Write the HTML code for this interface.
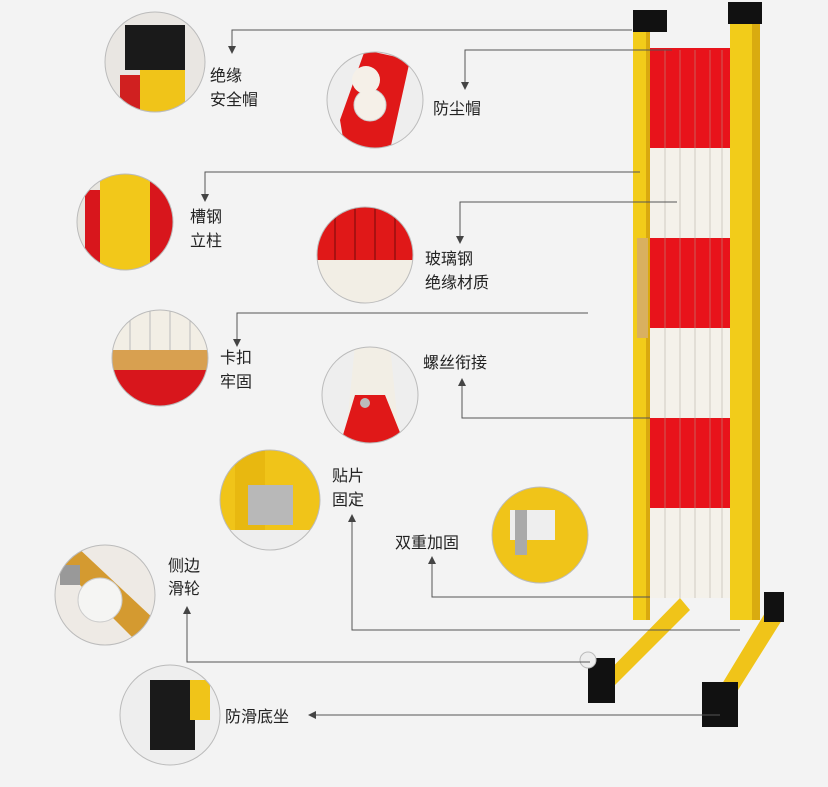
<!DOCTYPE html>
<html><head><meta charset="utf-8"><style>
html,body{margin:0;padding:0;background:#f3f3f3}
svg{display:block}
text{font-family:"Liberation Sans","Noto Sans CJK SC",sans-serif;font-size:16px;fill:#222}
</style></head><body>
<svg width="828" height="787" viewBox="0 0 828 787" xmlns="http://www.w3.org/2000/svg">
<defs>
<marker id="a" markerWidth="8" markerHeight="8" refX="4" refY="4" orient="auto"><path d="M0,0 L8,4 L0,8 Z" fill="#444"/></marker>
<clipPath id="c1"><circle cx="155" cy="62" r="50"/></clipPath>
<clipPath id="c2"><circle cx="375" cy="100" r="48"/></clipPath>
<clipPath id="c3"><circle cx="125" cy="222" r="48"/></clipPath>
<clipPath id="c4"><circle cx="365" cy="255" r="48"/></clipPath>
<clipPath id="c5"><circle cx="160" cy="358" r="48"/></clipPath>
<clipPath id="c6"><circle cx="370" cy="395" r="48"/></clipPath>
<clipPath id="c7"><circle cx="270" cy="500" r="50"/></clipPath>
<clipPath id="c8"><circle cx="540" cy="535" r="48"/></clipPath>
<clipPath id="c9"><circle cx="105" cy="595" r="50"/></clipPath>
<clipPath id="c10"><circle cx="170" cy="715" r="50"/></clipPath>
</defs>
<rect width="828" height="787" fill="#f3f3f3"/>

<g>
<rect x="650" y="48" width="82" height="100" fill="#e8131b"/>
<rect x="650" y="148" width="82" height="90" fill="#f4f1ea"/>
<rect x="650" y="238" width="82" height="90" fill="#e8131b"/>
<rect x="650" y="328" width="82" height="90" fill="#f4f1ea"/>
<rect x="650" y="418" width="82" height="90" fill="#e8131b"/>
<rect x="650" y="508" width="82" height="90" fill="#f4f1ea"/>
<g stroke="#b0a89a" stroke-width="1" opacity="0.5">
<line x1="665" y1="50" x2="665" y2="598"/><line x1="680" y1="50" x2="680" y2="598"/><line x1="695" y1="50" x2="695" y2="598"/><line x1="710" y1="50" x2="710" y2="598"/><line x1="722" y1="50" x2="722" y2="598"/>
</g>
<polygon points="590,690 600,700 690,610 680,598" fill="#f0c419"/>
<polygon points="705,712 718,722 782,620 768,608" fill="#f0c419"/>
<rect x="633" y="20" width="17" height="600" fill="#f2cc1a"/>
<rect x="646" y="20" width="4" height="600" fill="#d9a90f"/>
<rect x="730" y="15" width="30" height="605" fill="#f2cc1a"/>
<rect x="752" y="15" width="8" height="605" fill="#d9ab10"/>
<rect x="633" y="10" width="34" height="22" fill="#111"/>
<rect x="728" y="2" width="34" height="22" fill="#111"/>
<rect x="637" y="238" width="11" height="100" fill="#d9b060"/>
<rect x="588" y="658" width="27" height="45" fill="#111"/>
<rect x="702" y="682" width="36" height="45" fill="#111"/>
<rect x="764" y="592" width="20" height="30" fill="#111"/>
<circle cx="588" cy="660" r="8" fill="#eee" stroke="#bbb"/>
</g>

<g stroke="#555" stroke-width="1" fill="none">
<polyline points="632,30 232,30 232,50" marker-end="url(#a)"/>
<polyline points="672,50 465,50 465,86" marker-end="url(#a)"/>
<polyline points="640,172 205,172 205,198" marker-end="url(#a)"/>
<polyline points="677,202 460,202 460,240" marker-end="url(#a)"/>
<polyline points="588,313 237,313 237,343" marker-end="url(#a)"/>
<polyline points="650,418 462,418 462,382" marker-end="url(#a)"/>
<polyline points="740,630 352,630 352,518" marker-end="url(#a)"/>
<polyline points="650,597 432,597 432,560" marker-end="url(#a)"/>
<polyline points="590,662 187,662 187,610" marker-end="url(#a)"/>
<polyline points="720,715 312,715" marker-end="url(#a)"/>
</g>

<g clip-path="url(#c1)"><rect x="100" y="10" width="110" height="110" fill="#e9e6e2"/><rect x="140" y="30" width="45" height="90" fill="#f0c419"/><rect x="125" y="25" width="60" height="45" fill="#1a1a1a"/><rect x="120" y="75" width="20" height="40" fill="#d02020"/></g>
<circle cx="155" cy="62" r="50" fill="none" stroke="#bbb"/>
<g clip-path="url(#c2)"><rect x="320" y="50" width="110" height="100" fill="#eee"/><polygon points="340,120 365,50 410,60 390,150 345,150" fill="#e01818"/><circle cx="370" cy="105" r="16" fill="#f5f0e8" stroke="#ccc"/><circle cx="366" cy="80" r="14" fill="#f5f0e8"/></g>
<circle cx="375" cy="100" r="48" fill="none" stroke="#bbb"/>
<g clip-path="url(#c3)"><rect x="75" y="172" width="100" height="100" fill="#e8e6e0"/><rect x="100" y="172" width="50" height="100" fill="#f2c81a"/><rect x="85" y="190" width="15" height="80" fill="#d8161c"/><rect x="150" y="172" width="25" height="100" fill="#d8161c"/></g>
<circle cx="125" cy="222" r="48" fill="none" stroke="#bbb"/>
<g clip-path="url(#c4)"><rect x="315" y="205" width="100" height="55" fill="#e01818"/><rect x="315" y="260" width="100" height="50" fill="#f2eee5"/><g stroke="#a11" stroke-width="2"><line x1="335" y1="205" x2="335" y2="260"/><line x1="355" y1="205" x2="355" y2="260"/><line x1="375" y1="205" x2="375" y2="260"/><line x1="395" y1="205" x2="395" y2="260"/></g></g>
<circle cx="365" cy="255" r="48" fill="none" stroke="#bbb"/>
<g clip-path="url(#c5)"><rect x="110" y="308" width="100" height="100" fill="#f2eee5"/><rect x="110" y="365" width="100" height="45" fill="#d8161c"/><rect x="112" y="350" width="96" height="20" fill="#d8a050"/><g stroke="#bbb"><line x1="130" y1="310" x2="130" y2="350"/><line x1="150" y1="310" x2="150" y2="350"/><line x1="170" y1="310" x2="170" y2="350"/><line x1="190" y1="310" x2="190" y2="350"/></g></g>
<circle cx="160" cy="358" r="48" fill="none" stroke="#bbb"/>
<g clip-path="url(#c6)"><rect x="320" y="345" width="100" height="100" fill="#eee"/><polygon points="345,445 355,345 390,345 400,445" fill="#f2eee5"/><polygon points="340,445 355,395 385,395 405,445" fill="#e01818"/><circle cx="365" cy="403" r="5" fill="#bbb"/></g>
<circle cx="370" cy="395" r="48" fill="none" stroke="#bbb"/>
<g clip-path="url(#c7)"><rect x="220" y="450" width="100" height="100" fill="#f0c419"/><rect x="235" y="450" width="30" height="100" fill="#e8b810"/><rect x="248" y="485" width="45" height="40" fill="#b8b8b8"/><rect x="220" y="530" width="100" height="20" fill="#eee"/></g>
<circle cx="270" cy="500" r="50" fill="none" stroke="#bbb"/>
<g clip-path="url(#c8)"><rect x="490" y="485" width="100" height="100" fill="#f0c419"/><rect x="510" y="510" width="45" height="30" fill="#eee"/><rect x="515" y="510" width="12" height="45" fill="#aaa"/></g>
<circle cx="540" cy="535" r="48" fill="none" stroke="#bbb"/>
<g clip-path="url(#c9)"><rect x="55" y="545" width="100" height="100" fill="#eeeae5"/><polygon points="55,560 75,545 155,620 140,645" fill="#d49a30"/><circle cx="100" cy="600" r="22" fill="#f5f5f3" stroke="#ccc"/><rect x="60" y="565" width="20" height="20" fill="#999"/></g>
<circle cx="105" cy="595" r="50" fill="none" stroke="#bbb"/>
<g clip-path="url(#c10)"><rect x="120" y="665" width="100" height="100" fill="#eeeeee"/><rect x="150" y="680" width="45" height="70" fill="#1a1a1a"/><rect x="190" y="680" width="20" height="40" fill="#f0c419"/></g>
<circle cx="170" cy="715" r="50" fill="none" stroke="#bbb"/>

<text x="210" y="81">绝缘</text><text x="210" y="105">安全帽</text>
<text x="433" y="114">防尘帽</text>
<text x="190" y="222">槽钢</text><text x="190" y="246">立柱</text>
<text x="425" y="264">玻璃钢</text><text x="425" y="288">绝缘材质</text>
<text x="220" y="363">卡扣</text><text x="220" y="387">牢固</text>
<text x="423" y="368">螺丝衔接</text>
<text x="332" y="481">贴片</text><text x="332" y="505">固定</text>
<text x="395" y="548">双重加固</text>
<text x="168" y="571">侧边</text><text x="168" y="594">滑轮</text>
<text x="225" y="722">防滑底坐</text>
</svg>
</body></html>
